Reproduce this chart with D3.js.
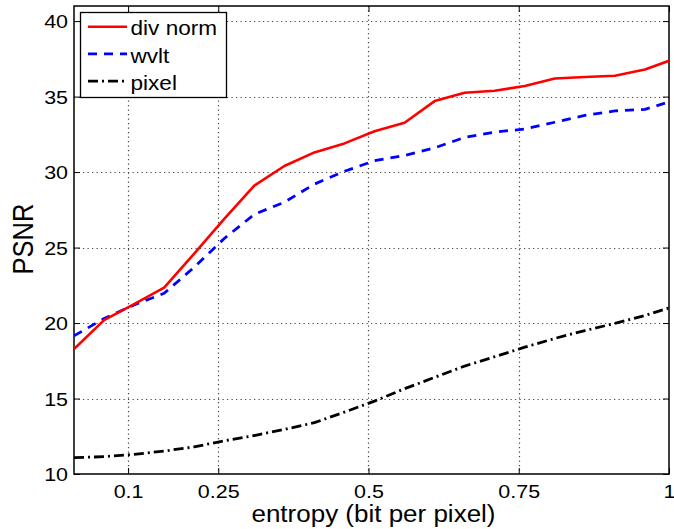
<!DOCTYPE html>
<html>
<head>
<meta charset="utf-8">
<script src="https://cdn.jsdelivr.net/npm/d3@7"></script>
<style>
  body { margin: 0; background: #fff; }
  svg { display: block; font-family: "Liberation Sans", Arial, Helvetica, sans-serif; }
</style>
</head>
<body>
<svg id="chart"></svg>
<script>
// entropy values (bit per pixel)
const entropy = [0.01, 0.06, 0.11, 0.16, 0.21, 0.26, 0.31, 0.36, 0.41, 0.46, 0.51,
                 0.56, 0.61, 0.66, 0.71, 0.76, 0.81, 0.86, 0.91, 0.96, 1.00];
const divNorm = [18.27, 20.19, 21.25, 22.34, 24.6, 26.9, 29.1, 30.4, 31.3, 31.9, 32.7,
                 33.27, 34.7, 35.25, 35.39, 35.7, 36.2, 36.3, 36.38, 36.8, 37.37];
const wvlt    = [19.15, 20.3, 21.2, 21.97, 23.7, 25.6, 27.2, 28.0, 29.2, 30.05, 30.75,
                 31.1, 31.6, 32.3, 32.65, 32.85, 33.3, 33.75, 34.05, 34.15, 34.65];
const pixel   = [11.08, 11.15, 11.3, 11.52, 11.8, 12.2, 12.55, 12.95, 13.4, 14.1, 14.83,
                 15.65, 16.4, 17.15, 17.77, 18.4, 18.98, 19.5, 19.98, 20.5, 21.0];
const xTicks = [0.1, 0.25, 0.5, 0.75, 1];
const xTickLabels = ["0.1", "0.25", "0.5", "0.75", "1"];
const yTicks = [10, 15, 20, 25, 30, 35, 40];
const seriesNames = ["div norm", "wvlt", "pixel"];

const width = 674, height = 529;
const marginLeft = 74, marginRight = 5, marginTop = 6, marginBottom = 55;
const sx = 1.13; // text in the figure is a bit wide

const svg = d3.select("#chart")
    .attr("width", width)
    .attr("height", height)
    .attr("viewBox", [0, 0, width, height]);

const x = d3.scaleLinear()
    .domain([0.01, 1])
    .range([marginLeft, width - marginRight]);
const y = d3.scaleLinear()
    .domain([10, 41])
    .range([height - marginBottom, marginTop]);

// dotted grid, drawn as dot-dashed paths
const grid = svg.append("g")
    .attr("fill", "none")
    .attr("stroke", "#444")
    .attr("stroke-width", 1.2)
    .attr("stroke-dasharray", "1.2,3.3");
grid.selectAll("path.gx")
  .data(xTicks.slice(0, -1))
  .join("path")
    .attr("class", "gx")
    .attr("d", d => `M${Math.round(x(d)) + 0.5},${marginTop}V${height - marginBottom}`);
grid.selectAll("path.gy")
  .data(yTicks.slice(1))
  .join("path")
    .attr("class", "gy")
    .attr("d", d => `M${marginLeft},${Math.round(y(d)) + 0.5}H${width - marginRight}`);

// bottom axis, ticks pointing in
svg.append("g")
    .attr("transform", `translate(0,${height - marginBottom})`)
    .call(d3.axisBottom(x).tickValues(xTicks).tickFormat((d, i) => xTickLabels[i])
      .tickSizeInner(-6).tickSizeOuter(0).tickPadding(11))
    .call(g => g.select(".domain").remove())
    .call(g => g.selectAll("text")
      .attr("font-size", 19).attr("fill", "#000").attr("font-family", null)
      .attr("transform", `scale(${sx},1)`));

// top ticks
svg.append("g")
    .attr("transform", `translate(0,${marginTop})`)
    .call(d3.axisTop(x).tickValues(xTicks).tickSizeInner(-6).tickSizeOuter(0).tickFormat(""))
    .call(g => g.select(".domain").remove());

// left axis
svg.append("g")
    .attr("transform", `translate(${marginLeft},0)`)
    .call(d3.axisLeft(y).tickValues(yTicks).tickSizeInner(-6).tickSizeOuter(0).tickPadding(6 / sx))
    .call(g => g.select(".domain").remove())
    .call(g => g.selectAll("text")
      .attr("font-size", 19).attr("fill", "#000").attr("font-family", null)
      .attr("dy", "0.36em")
      .attr("transform", `scale(${sx},1)`));

// right ticks
svg.append("g")
    .attr("transform", `translate(${width - marginRight},0)`)
    .call(d3.axisRight(y).tickValues(yTicks).tickSizeInner(-6).tickSizeOuter(0).tickFormat(""))
    .call(g => g.select(".domain").remove());

// axes box
svg.append("rect")
    .attr("x", marginLeft).attr("y", marginTop)
    .attr("width", width - marginLeft - marginRight)
    .attr("height", height - marginTop - marginBottom)
    .attr("fill", "none").attr("stroke", "#000").attr("stroke-width", 1.5);

svg.append("clipPath").attr("id", "clip")
  .append("rect")
    .attr("x", marginLeft).attr("y", marginTop)
    .attr("width", width - marginLeft - marginRight)
    .attr("height", height - marginTop - marginBottom);

const line = d3.line()
    .x(d => x(d[0]))
    .y(d => y(d[1]));

const styles = [
  {color: "#ff0000", dash: null, w: 2.6},
  {color: "#0000ff", dash: "9,7", w: 2.8},
  {color: "#000000", dash: "10,4,2,4", w: 2.8}
];
const allSeries = [divNorm, wvlt, pixel];

// draw pixel first so red ends up on top
svg.append("g").attr("clip-path", "url(#clip)")
  .selectAll("path")
  .data([2, 1, 0])
  .join("path")
    .attr("fill", "none")
    .attr("stroke", i => styles[i].color)
    .attr("stroke-width", i => styles[i].w)
    .attr("stroke-dasharray", i => styles[i].dash)
    .attr("stroke-linejoin", "round")
    .attr("d", i => line(entropy.map((e, k) => [e, allSeries[i][k]])));

// legend
const legend = svg.append("g");
legend.append("rect")
    .attr("x", 80.5).attr("y", 12.5).attr("width", 146).attr("height", 85)
    .attr("fill", "#fff").attr("stroke", "#000").attr("stroke-width", 1.3);
seriesNames.forEach((name, i) => {
  const ly = 26.7 + i * 27.2;
  legend.append("line")
      .attr("x1", 88).attr("x2", 127).attr("y1", ly).attr("y2", ly)
      .attr("stroke", styles[i].color)
      .attr("stroke-width", styles[i].w)
      .attr("stroke-dasharray", styles[i].dash);
  legend.append("text")
      .attr("transform", `translate(130.5,${ly + 8.6}) scale(${sx},1)`)
      .attr("font-size", 20)
      .text(name);
});

// axis labels
svg.append("text")
    .attr("transform", `translate(${(marginLeft + width - marginRight) / 2 + 2},522) scale(${sx},1)`)
    .attr("text-anchor", "middle")
    .attr("font-size", 23)
    .text("entropy (bit per pixel)");

svg.append("text")
    .attr("transform", `translate(33,239) rotate(-90) scale(1,${sx})`)
    .attr("text-anchor", "middle")
    .attr("font-size", 25.5)
    .text("PSNR");
</script>
</body>
</html>
